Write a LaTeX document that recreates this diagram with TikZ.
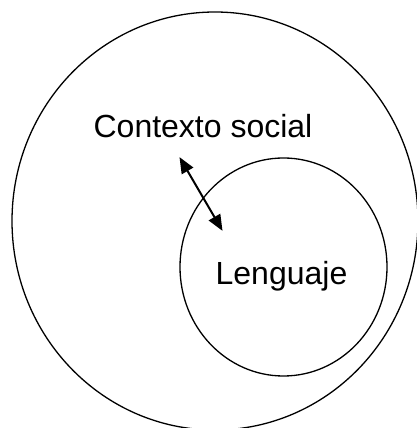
\documentclass[tikz,border=0pt]{standalone}
\usepackage{fontspec}
\setmainfont{Liberation Sans}
\usetikzlibrary{arrows.meta}
\tikzset{
  rotulo/.style={font=\fontsize{32}{38}\selectfont, inner sep=0pt, anchor=base},
  borde/.style={line width=1.3pt},
  flecha/.style={line width=2pt, {Triangle[length=16pt,width=13pt]}-{Triangle[length=16pt,width=13pt]}, shorten <=-1pt, shorten >=-1pt}
}
\begin{document}
\begin{tikzpicture}[x=1pt,y=1pt]
			\useasboundingbox (0,0) rectangle (417,428);
			\draw[borde] (215,207) ellipse[x radius=203, y radius=209];
			\draw[borde] (283.5,161) ellipse[x radius=103.5, y radius=109];
			\node[rotulo] (contexto) at (203,290) {Contexto social};
			\node[rotulo] (lenguaje) at (281.5,143) {Lenguaje};
			\coordinate (puntaA) at (180,270);
			\coordinate (puntaB) at (222,198);
			\draw[flecha] (puntaA) -- (puntaB);
		\end{tikzpicture}
\end{document}
